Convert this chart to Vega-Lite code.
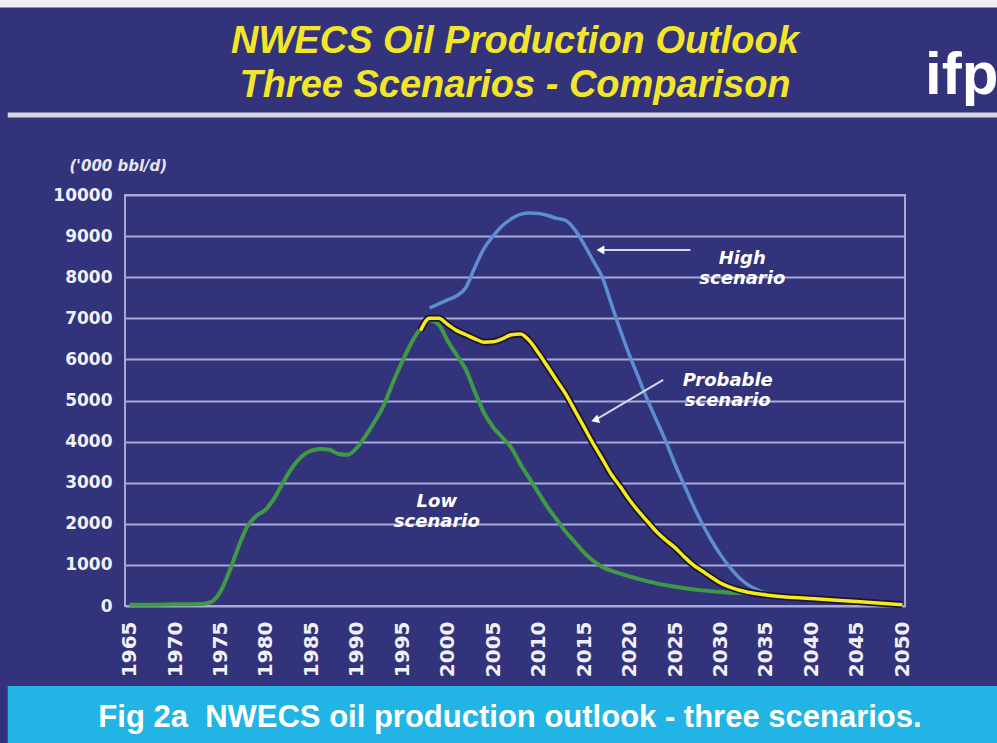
{
  "$schema": "https://vega.github.io/schema/vega-lite/v6.json",
  "width": 780,
  "height": 411,
  "autosize": {"type": "none"},
  "padding": {"left": 125, "top": 195, "right": 92, "bottom": 137},
  "background": "#32337a",
  "config": {
    "view": {"stroke": "#a9a9d6", "strokeWidth": 2},
    "font": "Liberation Sans"
  },
  "title": {
    "text": ["NWECS Oil Production Outlook", "Three Scenarios - Comparison"],
    "font": "Liberation Sans",
    "fontSize": 38,
    "fontStyle": "italic",
    "fontWeight": "bold",
    "color": "#f3e62a",
    "anchor": "middle",
    "lineHeight": 44,
    "offset": -105
  },
  "datasets": {
    "production": [
      {"scenario": "Low", "year": 1965, "value": 30},
      {"scenario": "Low", "year": 1967, "value": 30},
      {"scenario": "Low", "year": 1970, "value": 40},
      {"scenario": "Low", "year": 1973, "value": 50},
      {"scenario": "Low", "year": 1974, "value": 100},
      {"scenario": "Low", "year": 1975, "value": 350},
      {"scenario": "Low", "year": 1976, "value": 850},
      {"scenario": "Low", "year": 1977, "value": 1450},
      {"scenario": "Low", "year": 1978, "value": 1950},
      {"scenario": "Low", "year": 1979, "value": 2200},
      {"scenario": "Low", "year": 1980, "value": 2350},
      {"scenario": "Low", "year": 1981, "value": 2650},
      {"scenario": "Low", "year": 1982, "value": 3050},
      {"scenario": "Low", "year": 1983, "value": 3400},
      {"scenario": "Low", "year": 1984, "value": 3650},
      {"scenario": "Low", "year": 1985, "value": 3780},
      {"scenario": "Low", "year": 1986, "value": 3820},
      {"scenario": "Low", "year": 1987, "value": 3800},
      {"scenario": "Low", "year": 1988, "value": 3700},
      {"scenario": "Low", "year": 1989, "value": 3680},
      {"scenario": "Low", "year": 1990, "value": 3850},
      {"scenario": "Low", "year": 1991, "value": 4150},
      {"scenario": "Low", "year": 1992, "value": 4500},
      {"scenario": "Low", "year": 1993, "value": 4900},
      {"scenario": "Low", "year": 1994, "value": 5450},
      {"scenario": "Low", "year": 1995, "value": 5950},
      {"scenario": "Low", "year": 1996, "value": 6400},
      {"scenario": "Low", "year": 1997, "value": 6750},
      {"scenario": "Low", "year": 1998, "value": 6950},
      {"scenario": "Low", "year": 1999, "value": 6850},
      {"scenario": "Low", "year": 2000, "value": 6450},
      {"scenario": "Low", "year": 2001, "value": 6100},
      {"scenario": "Low", "year": 2002, "value": 5750},
      {"scenario": "Low", "year": 2003, "value": 5200},
      {"scenario": "Low", "year": 2004, "value": 4700},
      {"scenario": "Low", "year": 2005, "value": 4350},
      {"scenario": "Low", "year": 2006, "value": 4100},
      {"scenario": "Low", "year": 2007, "value": 3850},
      {"scenario": "Low", "year": 2008, "value": 3450},
      {"scenario": "Low", "year": 2009, "value": 3100},
      {"scenario": "Low", "year": 2010, "value": 2750},
      {"scenario": "Low", "year": 2011, "value": 2400},
      {"scenario": "Low", "year": 2012, "value": 2100},
      {"scenario": "Low", "year": 2013, "value": 1800},
      {"scenario": "Low", "year": 2014, "value": 1550},
      {"scenario": "Low", "year": 2015, "value": 1300},
      {"scenario": "Low", "year": 2016, "value": 1100},
      {"scenario": "Low", "year": 2017, "value": 950},
      {"scenario": "Low", "year": 2018, "value": 860},
      {"scenario": "Low", "year": 2020, "value": 720},
      {"scenario": "Low", "year": 2022, "value": 600},
      {"scenario": "Low", "year": 2025, "value": 470},
      {"scenario": "Low", "year": 2028, "value": 380},
      {"scenario": "Low", "year": 2030, "value": 340},
      {"scenario": "Low", "year": 2035, "value": 280},
      {"scenario": "Low", "year": 2040, "value": 170},
      {"scenario": "Low", "year": 2045, "value": 90},
      {"scenario": "Low", "year": 2050, "value": 30},
      {"scenario": "High", "year": 1998, "value": 7250},
      {"scenario": "High", "year": 1999, "value": 7350},
      {"scenario": "High", "year": 2000, "value": 7450},
      {"scenario": "High", "year": 2001, "value": 7550},
      {"scenario": "High", "year": 2002, "value": 7750},
      {"scenario": "High", "year": 2003, "value": 8250},
      {"scenario": "High", "year": 2004, "value": 8700},
      {"scenario": "High", "year": 2005, "value": 9000},
      {"scenario": "High", "year": 2006, "value": 9250},
      {"scenario": "High", "year": 2007, "value": 9420},
      {"scenario": "High", "year": 2008, "value": 9530},
      {"scenario": "High", "year": 2009, "value": 9560},
      {"scenario": "High", "year": 2010, "value": 9550},
      {"scenario": "High", "year": 2011, "value": 9500},
      {"scenario": "High", "year": 2012, "value": 9430},
      {"scenario": "High", "year": 2013, "value": 9380},
      {"scenario": "High", "year": 2014, "value": 9150},
      {"scenario": "High", "year": 2015, "value": 8800},
      {"scenario": "High", "year": 2016, "value": 8400},
      {"scenario": "High", "year": 2017, "value": 8000},
      {"scenario": "High", "year": 2018, "value": 7350},
      {"scenario": "High", "year": 2019, "value": 6700},
      {"scenario": "High", "year": 2020, "value": 6100},
      {"scenario": "High", "year": 2021, "value": 5550},
      {"scenario": "High", "year": 2022, "value": 5000},
      {"scenario": "High", "year": 2023, "value": 4500},
      {"scenario": "High", "year": 2024, "value": 4000},
      {"scenario": "High", "year": 2025, "value": 3450},
      {"scenario": "High", "year": 2026, "value": 2950},
      {"scenario": "High", "year": 2027, "value": 2450},
      {"scenario": "High", "year": 2028, "value": 2000},
      {"scenario": "High", "year": 2029, "value": 1600},
      {"scenario": "High", "year": 2030, "value": 1250},
      {"scenario": "High", "year": 2031, "value": 950},
      {"scenario": "High", "year": 2032, "value": 700},
      {"scenario": "High", "year": 2033, "value": 520},
      {"scenario": "High", "year": 2034, "value": 400},
      {"scenario": "High", "year": 2035, "value": 320},
      {"scenario": "High", "year": 2040, "value": 180},
      {"scenario": "High", "year": 2045, "value": 110},
      {"scenario": "High", "year": 2050, "value": 30},
      {"scenario": "Probable", "year": 1997, "value": 6700},
      {"scenario": "Probable", "year": 1998, "value": 7000},
      {"scenario": "Probable", "year": 1999, "value": 7000},
      {"scenario": "Probable", "year": 2000, "value": 6850},
      {"scenario": "Probable", "year": 2001, "value": 6700},
      {"scenario": "Probable", "year": 2002, "value": 6600},
      {"scenario": "Probable", "year": 2003, "value": 6500},
      {"scenario": "Probable", "year": 2004, "value": 6420},
      {"scenario": "Probable", "year": 2005, "value": 6430},
      {"scenario": "Probable", "year": 2006, "value": 6500},
      {"scenario": "Probable", "year": 2007, "value": 6600},
      {"scenario": "Probable", "year": 2008, "value": 6620},
      {"scenario": "Probable", "year": 2009, "value": 6450},
      {"scenario": "Probable", "year": 2010, "value": 6150},
      {"scenario": "Probable", "year": 2011, "value": 5820},
      {"scenario": "Probable", "year": 2012, "value": 5480},
      {"scenario": "Probable", "year": 2013, "value": 5150},
      {"scenario": "Probable", "year": 2014, "value": 4750},
      {"scenario": "Probable", "year": 2015, "value": 4350},
      {"scenario": "Probable", "year": 2016, "value": 3950},
      {"scenario": "Probable", "year": 2017, "value": 3580},
      {"scenario": "Probable", "year": 2018, "value": 3200},
      {"scenario": "Probable", "year": 2019, "value": 2900},
      {"scenario": "Probable", "year": 2020, "value": 2580},
      {"scenario": "Probable", "year": 2021, "value": 2300},
      {"scenario": "Probable", "year": 2022, "value": 2050},
      {"scenario": "Probable", "year": 2023, "value": 1800},
      {"scenario": "Probable", "year": 2024, "value": 1600},
      {"scenario": "Probable", "year": 2025, "value": 1420},
      {"scenario": "Probable", "year": 2026, "value": 1200},
      {"scenario": "Probable", "year": 2027, "value": 1000},
      {"scenario": "Probable", "year": 2028, "value": 850},
      {"scenario": "Probable", "year": 2029, "value": 700},
      {"scenario": "Probable", "year": 2030, "value": 560},
      {"scenario": "Probable", "year": 2032, "value": 390},
      {"scenario": "Probable", "year": 2035, "value": 270},
      {"scenario": "Probable", "year": 2040, "value": 180},
      {"scenario": "Probable", "year": 2045, "value": 110},
      {"scenario": "Probable", "year": 2050, "value": 30}
    ],
    "notes": [
      {"name": "High", "label": "High\nscenario", "year": 2032.4, "value": 8440},
      {"name": "Probable", "label": "Probable\nscenario", "year": 2030.8, "value": 5475},
      {"name": "Low", "label": "Low\nscenario", "year": 1998.8, "value": 2530}
    ],
    "arrows": [
      {"name": "High", "year": 2026.7, "value": 8660, "year2": 2016.8, "value2": 8660},
      {"name": "Probable", "year": 2023.7, "value": 5500, "year2": 2016.2, "value2": 4525}
    ]
  },
  "layer": [
    {
      "data": {"values": [{}]},
      "mark": {"type": "rect", "color": "#21b4e4"},
      "encoding": {
        "x": {"datum": 1951.6, "type": "quantitative"},
        "x2": {"datum": 2070},
        "y": {"datum": -1946, "type": "quantitative"},
        "y2": {"datum": -3600}
      }
    },
    {
      "data": {"values": [{}]},
      "mark": {"type": "rect", "color": "#eeeef4"},
      "encoding": {
        "x": {"datum": 1950, "type": "quantitative"},
        "x2": {"datum": 2070},
        "y": {"datum": 14560, "type": "quantitative"},
        "y2": {"datum": 14745}
      }
    },
    {
      "data": {"values": [{}]},
      "mark": {"type": "rule", "color": "#d6d6e4", "strokeWidth": 5},
      "encoding": {
        "x": {"datum": 1951.6, "type": "quantitative"},
        "x2": {"datum": 2070},
        "y": {"datum": 11946, "type": "quantitative"}
      }
    },
    {
      "data": {"name": "production"},
      "transform": [{"filter": "datum.scenario === 'Low'"}],
      "mark": {"type": "line", "color": "#3f9a46", "strokeWidth": 4, "interpolate": "monotone"},
      "encoding": {
        "x": {
          "field": "year", "type": "quantitative",
          "scale": {"domain": [1964.5, 2050.3], "nice": false, "zero": false},
          "axis": {
            "values": [1965, 1970, 1975, 1980, 1985, 1990, 1995, 2000, 2005, 2010, 2015, 2020, 2025, 2030, 2035, 2040, 2045, 2050],
            "format": "d", "labelAngle": -90, "labelFont": "DejaVu Sans", "labelFontWeight": "bold",
            "labelFontSize": 20, "labelColor": "#f0f0f8", "labelPadding": 15, "ticks": false,
            "domain": false, "grid": false, "title": null, "labelOverlap": false
          }
        },
        "y": {
          "field": "value", "type": "quantitative",
          "scale": {"domain": [0, 10000], "nice": false},
          "axis": {
            "values": [0, 1000, 2000, 3000, 4000, 5000, 6000, 7000, 8000, 9000, 10000],
            "format": "d", "labelFont": "DejaVu Sans", "labelFontWeight": "bold", "labelFontSize": 17,
            "labelColor": "#f0f0f8", "labelPadding": 13, "ticks": false, "domain": false,
            "grid": true, "gridColor": "#a9a9d6", "gridWidth": 2, "labelOverlap": false,
            "title": "('000 bbl/d)", "titleFont": "DejaVu Sans", "titleFontStyle": "italic",
            "titleFontWeight": "bold", "titleFontSize": 15, "titleColor": "#e6e6f2", "titleAngle": 0,
            "titleX": -56, "titleY": -25, "titleAlign": "left", "titleBaseline": "alphabetic"
          }
        }
      }
    },
    {
      "data": {"name": "production"},
      "transform": [{"filter": "datum.scenario === 'High'"}],
      "mark": {"type": "line", "color": "#5c8fd2", "strokeWidth": 3.5, "interpolate": "monotone"},
      "encoding": {
        "x": {"field": "year", "type": "quantitative"},
        "y": {"field": "value", "type": "quantitative"}
      }
    },
    {
      "data": {"name": "production"},
      "transform": [{"filter": "datum.scenario === 'Probable'"}],
      "mark": {"type": "line", "color": "#1b1530", "strokeWidth": 7, "interpolate": "monotone"},
      "encoding": {
        "x": {"field": "year", "type": "quantitative"},
        "y": {"field": "value", "type": "quantitative"}
      }
    },
    {
      "data": {"name": "production"},
      "transform": [{"filter": "datum.scenario === 'Probable'"}],
      "mark": {"type": "line", "color": "#f4ea1c", "strokeWidth": 3.5, "interpolate": "monotone"},
      "encoding": {
        "x": {"field": "year", "type": "quantitative"},
        "y": {"field": "value", "type": "quantitative"}
      }
    },
    {
      "data": {"name": "arrows"},
      "mark": {"type": "rule", "color": "#d4d4ec", "strokeWidth": 2},
      "encoding": {
        "x": {"field": "year", "type": "quantitative"},
        "y": {"field": "value", "type": "quantitative"},
        "x2": {"field": "year2"},
        "y2": {"field": "value2"}
      }
    },
    {
      "data": {"name": "arrows"},
      "transform": [{"filter": "datum.name === 'High'"}],
      "mark": {"type": "point", "shape": "triangle-left", "size": 80, "filled": true, "color": "#ffffff", "opacity": 1},
      "encoding": {
        "x": {"field": "year2", "type": "quantitative"},
        "y": {"field": "value2", "type": "quantitative"}
      }
    },
    {
      "data": {"name": "arrows"},
      "transform": [{"filter": "datum.name === 'Probable'"}],
      "mark": {"type": "point", "shape": "triangle-right", "angle": 162, "size": 80, "filled": true, "color": "#ffffff", "opacity": 1},
      "encoding": {
        "x": {"field": "year2", "type": "quantitative"},
        "y": {"field": "value2", "type": "quantitative"}
      }
    },
    {
      "data": {"name": "notes"},
      "mark": {"type": "text", "lineBreak": "\n", "font": "DejaVu Sans", "fontStyle": "italic", "fontWeight": "bold", "fontSize": 18, "color": "#ffffff", "align": "center", "baseline": "middle", "lineHeight": 20},
      "encoding": {
        "x": {"field": "year", "type": "quantitative"},
        "y": {"field": "value", "type": "quantitative"},
        "text": {"field": "label"}
      }
    },
    {
      "data": {"values": [{}]},
      "mark": {"type": "text", "font": "Liberation Sans", "fontWeight": "bold", "fontSize": 31, "color": "#ffffff", "align": "center", "baseline": "alphabetic"},
      "encoding": {
        "x": {"datum": 2006.85, "type": "quantitative"},
        "y": {"datum": -2950, "type": "quantitative"},
        "text": {"value": "Fig 2a\u00a0 NWECS oil production outlook - three scenarios."}
      }
    },
    {
      "data": {"values": [{}]},
      "mark": {"type": "text", "font": "Liberation Sans", "fontWeight": "bold", "fontSize": 60, "color": "#ffffff", "align": "left", "baseline": "alphabetic"},
      "encoding": {
        "x": {"datum": 2052.5, "type": "quantitative"},
        "y": {"datum": 12450, "type": "quantitative"},
        "text": {"value": "ifp"}
      }
    }
  ]
}
